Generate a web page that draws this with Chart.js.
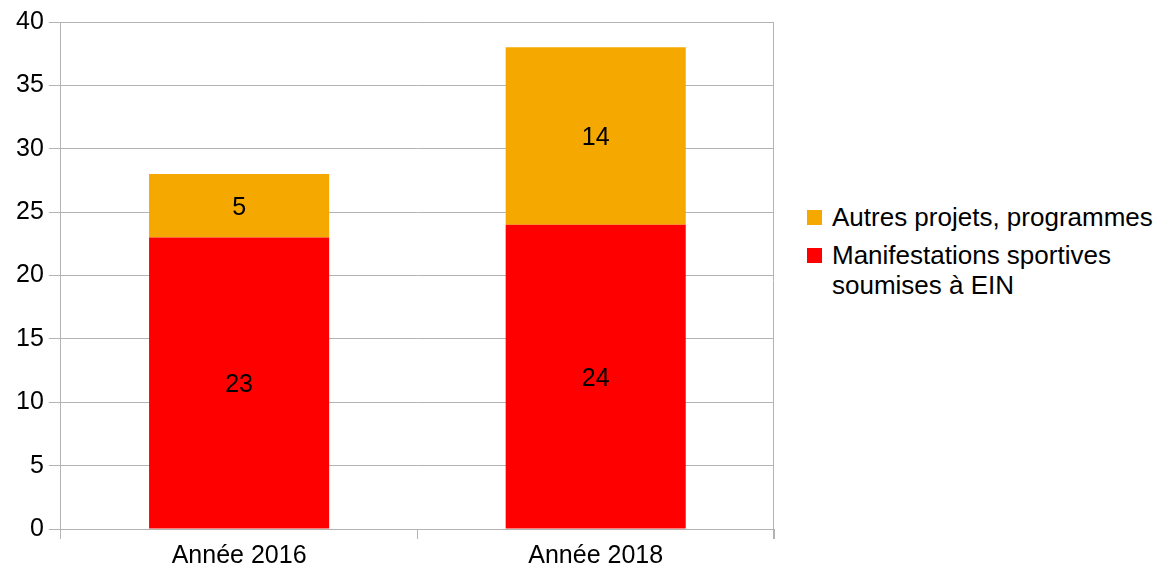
<!DOCTYPE html>
<html>
<head>
<meta charset="utf-8">
<script src="https://cdn.jsdelivr.net/npm/chart.js@4"></script>
<style>
  html, body { margin: 0; padding: 0; background: #fff; }
  #wrap { position: relative; width: 1155px; height: 574px; font-family: "Liberation Sans", Arial, sans-serif; }
  #chartBox { position: absolute; left: 0; top: 0; width: 776px; height: 574px; }
  #legend { position: absolute; left: 807px; top: 202px; font-size: 26px; color: #000; white-space: nowrap; }
  .item { display: flex; align-items: flex-start; line-height: 30px; margin-bottom: 8px; }
  .swatch { width: 15px; height: 15px; margin: 8px 10px 0 0; flex: none; }
</style>
</head>
<body>
<div id="wrap">
  <div id="chartBox"><canvas id="chart"></canvas></div>
  <div id="legend"></div>
</div>
<script>
// data
const categories = ['Année 2016', 'Année 2018'];
const manifestations = [23, 24];
const autres = [5, 14];
const seriesNames = ['Manifestations sportives\nsoumises à EIN', 'Autres projets, programmes'];
const yTicks = [0, 5, 10, 15, 20, 25, 30, 35, 40];

const gridColor = '#b3b3b3';
const fontFamily = '"Liberation Sans", Arial, sans-serif';

// value labels in the middle of each bar segment
const valueLabels = {
  id: 'valueLabels',
  afterDatasetsDraw(chart) {
    const ctx = chart.ctx;
    ctx.save();
    ctx.font = '25px ' + fontFamily;
    ctx.fillStyle = '#000';
    ctx.textAlign = 'center';
    ctx.textBaseline = 'middle';
    chart.data.datasets.forEach((ds, i) => {
      chart.getDatasetMeta(i).data.forEach((bar, j) => {
        const mid = (bar.y + bar.base) / 2;
        ctx.fillText(ds.data[j], bar.x, mid + 2);
      });
    });
    ctx.restore();
  }
};

// right border of the plot area
const rightBorder = {
  id: 'rightBorder',
  afterDraw(chart) {
    const a = chart.chartArea;
    const ctx = chart.ctx;
    ctx.save();
    ctx.strokeStyle = gridColor;
    ctx.lineWidth = 1;
    ctx.beginPath();
    ctx.moveTo(Math.round(a.right) - 0.5, a.top);
    ctx.lineTo(Math.round(a.right) - 0.5, a.bottom + 10);
    ctx.stroke();
    ctx.restore();
  }
};

const chart = new Chart(document.getElementById('chart'), {
  type: 'bar',
  data: {
    labels: categories,
    datasets: [
      { label: seriesNames[0], data: manifestations, backgroundColor: '#ff0000' },
      { label: seriesNames[1], data: autres, backgroundColor: '#f5a800' }
    ]
  },
  options: {
    responsive: true,
    maintainAspectRatio: false,
    animation: false,
    layout: { padding: { top: 22, right: 2, left: 11, bottom: 1 } },
    datasets: { bar: { categoryPercentage: 1, barPercentage: 0.505 } },
    plugins: { legend: { display: false }, tooltip: { enabled: false } },
    scales: {
      x: {
        stacked: true,
        grid: { drawOnChartArea: false, color: gridColor, tickLength: 10 },
        border: { color: gridColor },
        ticks: { color: '#000', font: { size: 25, family: fontFamily }, padding: 2 }
      },
      y: {
        stacked: true,
        min: 0,
        max: 40,
        afterBuildTicks(axis) { axis.ticks = yTicks.map(v => ({ value: v })); },
        grid: { color: gridColor, tickLength: 12 },
        border: { color: gridColor },
        ticks: { color: '#000', font: { size: 25, family: fontFamily }, padding: 5 }
      }
    }
  },
  plugins: [valueLabels, rightBorder]
});

// html legend, reversed order like the original
const legend = document.getElementById('legend');
chart.data.datasets.slice().reverse().forEach(ds => {
  const item = document.createElement('div');
  item.className = 'item';
  const sw = document.createElement('span');
  sw.className = 'swatch';
  sw.style.background = ds.backgroundColor;
  const txt = document.createElement('span');
  txt.innerHTML = ds.label.replace('\n', '<br>');
  item.appendChild(sw);
  item.appendChild(txt);
  legend.appendChild(item);
});
</script>
</body>
</html>
